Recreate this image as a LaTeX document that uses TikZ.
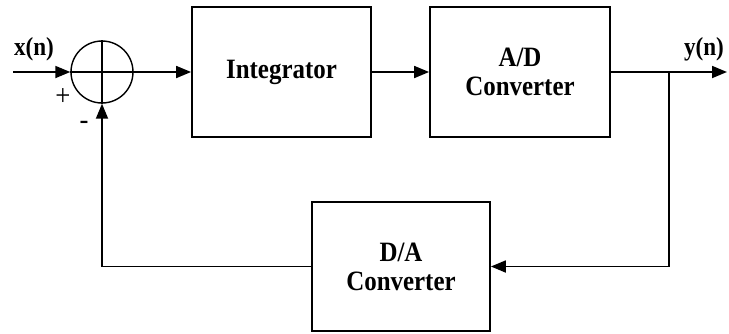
\documentclass[tikz,border=0pt]{standalone}
\usepackage{fontspec}
\setmainfont{Liberation Serif}[FakeStretch=0.89]
\usetikzlibrary{arrows.meta,calc}
\begin{document}
\begin{tikzpicture}[x=1pt,y=-1pt,
  line width=1.8pt,
  blk/.style={draw, line width=1.8pt, minimum width=#1, minimum height=130pt, inner sep=0pt, align=center,
     font=\fontsize{28}{31}\selectfont\bfseries},
  lbl/.style={font=\fontsize{26}{28}\selectfont\bfseries, inner sep=0pt},
  sgn/.style={font=\fontsize{30}{32}\selectfont, inner sep=0pt},
  arr/.style={-{Triangle[length=15pt,width=12pt]}},
  ln/.style={line width=1.8pt}]
\useasboundingbox (0,0) rectangle (729,333);
\node[draw, circle, minimum size=62pt, inner sep=0pt, line width=1.4pt] (sum) at (102,72) {};
\draw[line width=1.4pt] (sum.north) -- (sum.south) (sum.west) -- (sum.east);
\node[blk=179pt] (int) at (281.5,72) {Integrator};
\node[blk=180pt] (ad) at (520,72) {A/D\\[-2pt]Converter};
\node[blk=178pt, minimum height=129pt] (da) at (401,266.5) {D/A\\[-2pt]Converter};
\coordinate (in) at (13,72);
\coordinate (out) at (727,72);
\coordinate (br) at (669,72);
\coordinate (brd) at (669,266.5);
\coordinate (fb) at (102,266.5);
\node[lbl] (xn) at (34,49) {x(n)};
\node[lbl] (yn) at (704,49) {y(n)};
\node[sgn] (plus) at (63,97) {+};
\node[sgn] (minus) at (84,125) {-};
\draw[ln,arr] (in) -- (sum.west);
\draw[ln,arr] (sum.east) -- (int.west);
\draw[ln,arr] (int.east) -- (ad.west);
\draw[ln,arr] (ad.east) -- (out);
\draw[ln,arr] (br) -- (brd) -- (da.east);
\draw[ln,arr] (da.west) -- (fb) -- (sum.south);
\end{tikzpicture}
\end{document}
